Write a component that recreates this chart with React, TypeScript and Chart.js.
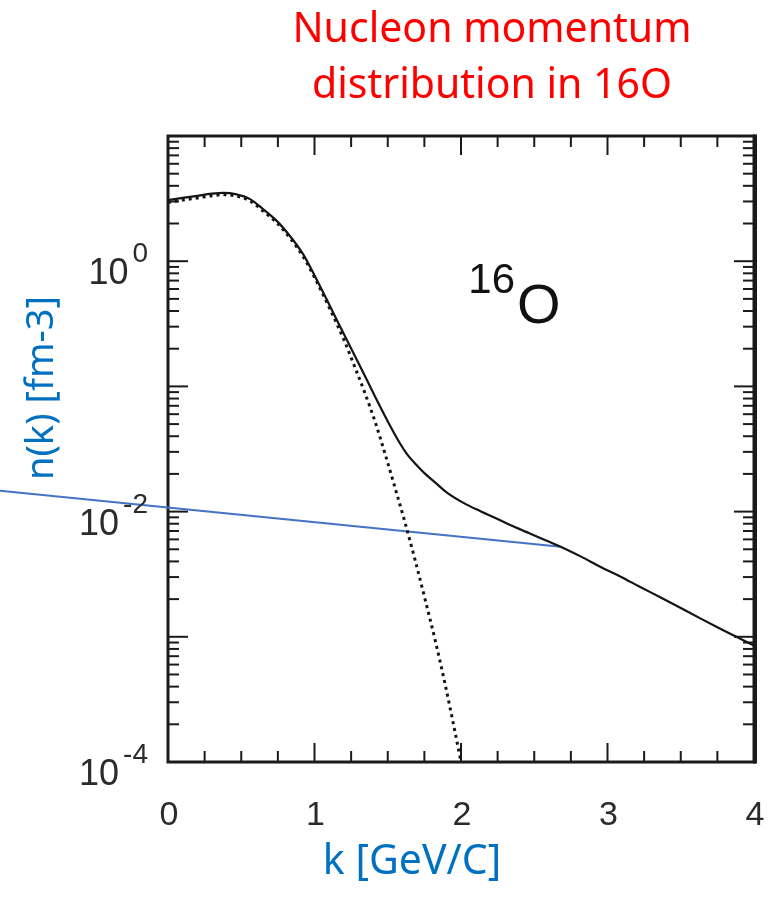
import { useEffect, useRef } from "react";
import { Chart, registerables } from "chart.js";

Chart.register(...registerables);

// Full momentum distribution n(k) (solid curve)
const kFull = [0, 0.1, 0.2, 0.3, 0.38, 0.46, 0.56, 0.648, 0.744, 0.833, 0.922, 1.003, 1.106, 1.208, 1.311, 1.413, 1.515, 1.584, 1.638, 1.693, 1.754, 1.823, 1.904, 2.014, 2.13, 2.25, 2.36, 2.47, 2.59, 2.68, 2.82, 2.95, 3.09, 3.22, 3.36, 3.5, 3.63, 3.77, 3.88, 4.0];
const nFull = [3.08, 3.2, 3.33, 3.46, 3.51, 3.43, 3.13, 2.61, 2.09, 1.585, 1.138, 0.759, 0.437, 0.251, 0.145, 0.0832, 0.0488, 0.035, 0.0281, 0.0238, 0.0201, 0.0171, 0.0142, 0.0118, 0.0101, 0.00871, 0.00759, 0.00668, 0.00582, 0.00525, 0.00437, 0.00363, 0.00302, 0.00251, 0.00207, 0.0017, 0.00141, 0.00116, 0.001, 0.000851];

// Mean-field part (dotted curve)
const kMean = [0, 0.1, 0.2, 0.3, 0.38, 0.46, 0.56, 0.648, 0.744, 0.833, 0.922, 1.003, 1.106, 1.208, 1.276, 1.345, 1.413, 1.481, 1.549, 1.618, 1.686, 1.754, 1.823, 1.891, 1.959, 2.0];
const nMean = [2.95, 3.08, 3.2, 3.33, 3.4, 3.33, 3.03, 2.52, 2.02, 1.53, 1.09, 0.731, 0.413, 0.225, 0.142, 0.0879, 0.0525, 0.0291, 0.0156, 0.00817, 0.00413, 0.00201, 0.000946, 0.000421, 0.000174, 0.0001];

// Blue pointer line running in from the left edge to the tail of the curve
const kPointer = [-1.147, 2.68];
const nPointer = [0.0147, 0.00525];

// Axes
const X_MIN = 0;
const X_MAX = 4;
const X_MINOR_STEP = 0.25;
const xTickValues = [0, 1, 2, 3, 4];
const xTickLabels = ["0", "1", "2", "3", "4"];
const Y_MIN = 1e-4;
const Y_MAX = 10;
const yLabelExponents = [0, -2, -4];

const titleLines = ["Nucleon momentum", "distribution in 16O"];
const xTitle = "k [GeV/C]";
const yTitle = "n(k) [fm-3]";
const nucleusMass = "16";
const nucleusSymbol = "O";

const toPoints = (xs: number[], ys: number[]) => xs.map((v, i) => ({ x: v, y: ys[i] }));

const decorPlugin = {
  id: "decor",
  beforeDraw(chart: any) {
    const { ctx, width, height } = chart;
    ctx.save();
    ctx.fillStyle = "#ffffff";
    ctx.fillRect(0, 0, width, height);
    ctx.restore();
  },
  beforeDatasetsDraw(chart: any) {
    const { ctx, chartArea: a, scales } = chart;
    const xs = scales.x;
    const ys = scales.y;
    const seg = (x1: number, y1: number, x2: number, y2: number) => {
      ctx.beginPath();
      ctx.moveTo(x1, y1);
      ctx.lineTo(x2, y2);
      ctx.stroke();
    };
    ctx.save();
    ctx.strokeStyle = "#1a1a1a";
    ctx.lineWidth = 2;
    // inward ticks on bottom and top
    for (let v = X_MIN; v <= X_MAX + 1e-9; v += X_MINOR_STEP) {
      const px = xs.getPixelForValue(v);
      const major = Math.abs(v - Math.round(v)) < 1e-9;
      const len = major ? 19 : 11;
      seg(px, a.bottom, px, a.bottom - len);
      seg(px, a.top, px, a.top + len);
    }
    // inward log ticks on left and right
    for (let e = -4; e <= 1; e++) {
      for (let m = 1; m <= 9; m++) {
        const v = m * Math.pow(10, e);
        if (v > Y_MAX * 1.0001) break;
        const py = ys.getPixelForValue(v);
        const len = m === 1 ? 20 : 11;
        seg(a.left, py, a.left + len, py);
        seg(a.right, py, a.right - len, py);
      }
    }
    // frame
    ctx.lineWidth = 3;
    ctx.strokeRect(a.left, a.top, a.right - a.left, a.bottom - a.top);
    ctx.lineWidth = 4;
    seg(a.right + 1, a.top - 1.5, a.right + 1, a.bottom + 1.5);
    ctx.restore();
  },
  afterDraw(chart: any) {
    const { ctx, chartArea: a, scales } = chart;
    const xs = scales.x;
    const ys = scales.y;
    ctx.save();

    // x tick labels
    ctx.fillStyle = "#2b2b2b";
    ctx.font = '34px "Liberation Sans", Arial, sans-serif';
    ctx.textAlign = "center";
    ctx.textBaseline = "alphabetic";
    xTickValues.forEach((v, i) => {
      ctx.fillText(xTickLabels[i], xs.getPixelForValue(v) + 1, a.bottom + 63);
    });

    // y tick labels as 10 with a raised exponent
    yLabelExponents.forEach((ex) => {
      const py = ys.getPixelForValue(Math.pow(10, ex));
      const expText = String(ex);
      ctx.textAlign = "right";
      ctx.font = '28px "Liberation Sans", Arial, sans-serif';
      const expRight = a.left - 20;
      ctx.fillText(expText, expRight, py + 1);
      const w = ctx.measureText(expText).width;
      ctx.font = '36px "Liberation Sans", Arial, sans-serif';
      ctx.fillText("10", expRight - w - 4, py + 23);
    });

    // nucleus label inside the plot
    ctx.fillStyle = "#111111";
    ctx.textAlign = "left";
    const lx = xs.getPixelForValue(2.05);
    const ly = ys.getPixelForValue(0.32);
    ctx.font = '42px "Liberation Sans", Arial, sans-serif';
    ctx.fillText(nucleusMass, lx, ly - 30);
    const mw = ctx.measureText(nucleusMass).width;
    ctx.font = '56px "Liberation Sans", Arial, sans-serif';
    ctx.fillText(nucleusSymbol, lx + mw + 2, ly);

    // title
    ctx.fillStyle = "#ff0000";
    ctx.textAlign = "center";
    ctx.font = '41px "Noto Sans", "Open Sans", sans-serif';
    ctx.fillText(titleLines[0], 492, 42);
    ctx.fillText(titleLines[1], 492, 98);

    // axis titles
    ctx.fillStyle = "#0070c0";
    ctx.textBaseline = "middle";
    ctx.font = '41px "Noto Sans", "Open Sans", sans-serif';
    ctx.fillText(xTitle, 412, 862);
    ctx.font = '38px "Noto Sans", "Open Sans", sans-serif';
    ctx.translate(42, 388);
    ctx.rotate(-Math.PI / 2);
    ctx.fillText(yTitle, 0, 0);

    ctx.restore();
  },
};

export default function App() {
  const canvasRef = useRef<HTMLCanvasElement | null>(null);

  useEffect(() => {
    document.body.style.margin = "0";
    const canvas = canvasRef.current;
    if (!canvas) return;
    const chart = new Chart(canvas, {
      type: "line",
      data: {
        datasets: [
          {
            label: "n(k)",
            data: toPoints(kFull, nFull),
            borderColor: "#141414",
            borderWidth: 2.2,
            pointRadius: 0,
            cubicInterpolationMode: "monotone",
            fill: false,
          },
          {
            label: "mean field",
            data: toPoints(kMean, nMean),
            borderColor: "#141414",
            borderWidth: 3,
            borderDash: [3, 4],
            pointRadius: 0,
            cubicInterpolationMode: "monotone",
            fill: false,
          },
          {
            label: "pointer",
            data: toPoints(kPointer, nPointer),
            borderColor: "#4472c4",
            borderWidth: 2,
            pointRadius: 0,
            tension: 0,
            fill: false,
            clip: false,
          } as any,
        ],
      },
      options: {
        responsive: false,
        animation: false,
        events: [],
        layout: { padding: { top: 136, right: 14, left: 0, bottom: 0 } },
        plugins: {
          legend: { display: false },
          title: { display: false },
          tooltip: { enabled: false },
        },
        scales: {
          x: {
            type: "linear",
            min: X_MIN,
            max: X_MAX,
            grid: { display: false },
            border: { display: false },
            ticks: { display: false },
            afterFit: (s: any) => {
              s.height = 151;
            },
          },
          y: {
            type: "logarithmic",
            min: Y_MIN,
            max: Y_MAX,
            grid: { display: false },
            border: { display: false },
            ticks: { display: false },
            afterFit: (s: any) => {
              s.width = 168;
            },
          },
        },
      },
      plugins: [decorPlugin],
    });
    return () => chart.destroy();
  }, []);

  return (
    <div style={{ position: "absolute", left: 0, top: 0, width: 768, height: 913, background: "#fff" }}>
      <canvas ref={canvasRef} width={768} height={913} style={{ display: "block" }} />
    </div>
  );
}
